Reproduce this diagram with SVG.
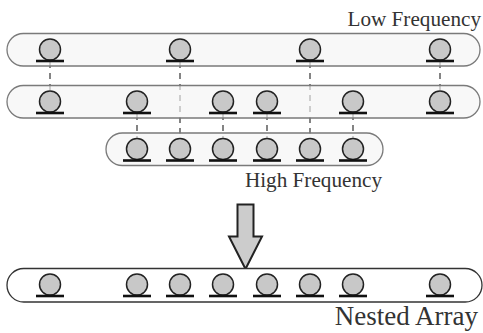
<svg xmlns="http://www.w3.org/2000/svg" xmlns:xlink="http://www.w3.org/1999/xlink" width="483" height="333" viewBox="0 0 483 333">
  <style>
    .band { fill: #f4f4f4; fill-opacity: 0.65; stroke: #7a7a7a; stroke-width: 1.3; }
    .band-out { fill: #ffffff; stroke: #333333; stroke-width: 1.3; }
    .link { stroke: #333333; stroke-width: 1.2; stroke-dasharray: 6 5; fill: none; }
    .label { font-family: "Liberation Serif", "Times New Roman", serif; fill: #333333; text-anchor: end; }
    .arrow { fill: #cccccc; stroke: #222222; stroke-width: 2; stroke-linejoin: miter; }
  </style>
  <defs>
    <!-- one sensor element: ball resting on a base bar -->
    <g id="sensor">
      <circle cx="0" cy="0" r="10.5" fill="#c8c8c8" stroke="#222222" stroke-width="1.5"/>
      <line x1="-14" y1="11.5" x2="14" y2="11.5" stroke="#111111" stroke-width="2.6"/>
    </g>
  </defs>

  <!-- dashed connectors between subarrays -->
  <g id="connectors">
    <line class="link" x1="50" y1="62" x2="50" y2="90"/>
    <line class="link" x1="440" y1="62" x2="440" y2="90"/>
    <line class="link" x1="180" y1="62" x2="180" y2="138"/>
    <line class="link" x1="310" y1="62" x2="310" y2="138"/>
    <line class="link" x1="137" y1="114" x2="137" y2="138"/>
    <line class="link" x1="223" y1="114" x2="223" y2="138"/>
    <line class="link" x1="267" y1="114" x2="267" y2="138"/>
    <line class="link" x1="353" y1="114" x2="353" y2="138"/>
  </g>

  <!-- low frequency subarray -->
  <g id="row-low">
    <rect class="band" x="7" y="33.5" width="473" height="32.5" rx="16.25"/>
    <use xlink:href="#sensor" x="50" y="49.5"/>
    <use xlink:href="#sensor" x="180" y="49.5"/>
    <use xlink:href="#sensor" x="310" y="49.5"/>
    <use xlink:href="#sensor" x="440" y="49.5"/>
  </g>

  <!-- middle subarray -->
  <g id="row-mid">
    <rect class="band" x="7" y="85.5" width="473" height="32.5" rx="16.25"/>
    <use xlink:href="#sensor" x="50" y="101.5"/>
    <use xlink:href="#sensor" x="137" y="101.5"/>
    <use xlink:href="#sensor" x="223" y="101.5"/>
    <use xlink:href="#sensor" x="267" y="101.5"/>
    <use xlink:href="#sensor" x="353" y="101.5"/>
    <use xlink:href="#sensor" x="440" y="101.5"/>
  </g>

  <!-- high frequency subarray -->
  <g id="row-high">
    <rect class="band" x="106" y="133" width="277" height="32.5" rx="16.25"/>
    <use xlink:href="#sensor" x="137" y="149"/>
    <use xlink:href="#sensor" x="180" y="149"/>
    <use xlink:href="#sensor" x="223" y="149"/>
    <use xlink:href="#sensor" x="267" y="149"/>
    <use xlink:href="#sensor" x="310" y="149"/>
    <use xlink:href="#sensor" x="353" y="149"/>
  </g>

  <g id="label-low"><text class="label" x="481" y="25.5" font-size="21.2">Low Frequency</text></g>
  <g id="label-high"><text class="label" x="382" y="186.5" font-size="21.2">High Frequency</text></g>

  <!-- merge arrow -->
  <g id="merge-arrow">
    <path class="arrow" d="M237.5,204.5 H253.5 V236.5 H262 L245.5,269 L229,236.5 H237.5 Z"/>
  </g>

  <!-- combined nested array -->
  <g id="row-nested">
    <rect class="band-out" x="7" y="268.5" width="475" height="33.5" rx="16.75"/>
    <use xlink:href="#sensor" x="50" y="284.5"/>
    <use xlink:href="#sensor" x="137" y="284.5"/>
    <use xlink:href="#sensor" x="180" y="284.5"/>
    <use xlink:href="#sensor" x="223" y="284.5"/>
    <use xlink:href="#sensor" x="267" y="284.5"/>
    <use xlink:href="#sensor" x="310" y="284.5"/>
    <use xlink:href="#sensor" x="353" y="284.5"/>
    <use xlink:href="#sensor" x="440" y="284.5"/>
  </g>
  <g id="label-nested"><text class="label" x="478" y="325" font-size="27">Nested Array</text></g>
</svg>
